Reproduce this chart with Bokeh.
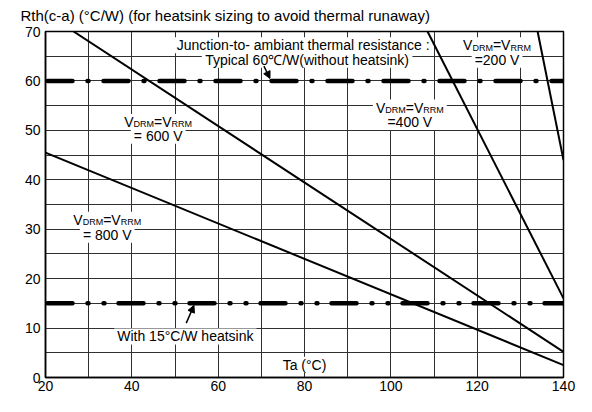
from bokeh.plotting import figure
from bokeh.models import Range1d, FixedTicker, Label, Arrow, NormalHead
from bokeh.embed import file_html
from bokeh.resources import INLINE

# ---------------- data ----------------
ta_800 = [20, 140]
rth_800 = [45.5, 2.5]
ta_600 = [26.5, 140]
rth_600 = [70, 5.2]
ta_400 = [108.5, 140]
rth_400 = [70, 16.0]
ta_200 = [134.0, 140]
rth_200 = [70, 44.0]

ta_span = [20, 140]
rth_no_heatsink = [60, 60]
rth_with_heatsink = [15, 15]

x_ticks = [20, 40, 60, 80, 100, 120, 140]
y_ticks = [0, 10, 20, 30, 40, 50, 60, 70]
x_grid = [20, 30, 40, 50, 60, 70, 80, 90, 100, 110, 120, 130, 140]
y_grid = [0, 5, 10, 15, 20, 25, 30, 35, 40, 45, 50, 55, 60, 65, 70]

FONT = "Liberation Sans"
LEFT, RIGHT, TOP, BOTTOM = 45, 13, 31, 19
WIDTH, HEIGHT = 576, 396
PX_PER_UNIT = (HEIGHT - TOP - BOTTOM) / 70.0

# Arial / Liberation Sans advance widths (per 1000 em)
W = {' ': 278, '(': 333, ')': 333, '-': 333, '/': 278, ':': 278, '=': 584, '°': 400,
     '℃': 1000, 'A': 667, 'C': 722, 'D': 722, 'J': 500, 'M': 833, 'R': 722, 'T': 611,
     'V': 667, 'W': 944, 'a': 556, 'b': 556, 'c': 500, 'e': 556, 'f': 278, 'g': 556,
     'h': 556, 'i': 222, 'k': 500, 'l': 222, 'm': 833, 'n': 556, 'o': 556, 'p': 556,
     'r': 333, 's': 500, 't': 278, 'u': 556, 'v': 500, 'w': 722, 'y': 500, 'z': 500}


def tw(s, size):
    return sum(W.get(c, 556) for c in s) * size / 1000.0


p = figure(width=WIDTH, height=HEIGHT, x_range=Range1d(20, 140), y_range=Range1d(0, 70),
           output_backend="svg", toolbar_location=None,
           min_border_left=LEFT, min_border_right=RIGHT, min_border_top=TOP,
           min_border_bottom=BOTTOM,
           title="Rth(c-a) (°C/W) (for heatsink sizing to avoid thermal runaway)")
p.background_fill_color = "white"
p.border_fill_color = "white"
p.outline_line_color = "black"
p.outline_line_width = 1.5

p.title.text_font = FONT
p.title.text_font_size = "15px"
p.title.text_font_style = "normal"
p.title.text_color = "black"
p.title.align = "left"
p.title.vertical_align = "top"
p.title.offset = 20 - LEFT
p.title.standoff = 11

for ax, ticks in ((p.xaxis, x_ticks), (p.yaxis, y_ticks)):
    ax.ticker = FixedTicker(ticks=ticks)
    ax.major_label_text_font = FONT
    ax.major_label_text_font_size = "14px"
    ax.major_label_text_color = "black"
    ax.major_tick_out = 0
    ax.major_tick_in = 0
    ax.minor_tick_out = 0
    ax.minor_tick_in = 0
    ax.axis_line_color = "black"
    ax.axis_line_width = 1.5
p.xaxis.major_label_standoff = 3
p.yaxis.major_label_standoff = 5

p.xgrid.ticker = FixedTicker(ticks=x_grid)
p.ygrid.ticker = FixedTicker(ticks=y_grid)
for g in (p.xgrid, p.ygrid):
    g.grid_line_color = "#303030"
    g.grid_line_width = 1
    g.grid_line_alpha = 1.0

# ---------------- annotation text (white boxes then text) ----------------
boxes_x, boxes_y, boxes_w, boxes_h = [], [], [], []
labels = []


def text_line(x, y, s, size=14):
    boxes_x.append(x); boxes_y.append(y)
    boxes_w.append(tw(s, size) + 6); boxes_h.append(size + 2)
    labels.append(Label(x=x, y=y, text=s, text_font=FONT, text_font_size=f"{size}px",
                        text_align="center", text_baseline="middle", text_color="black"))


def vlabel(x, y, size=14, sub=9):
    parts = [("V", False), ("DRM", True), ("=", False), ("V", False), ("RRM", True)]
    widths = [tw(t, sub if s else size) for t, s in parts]
    total = sum(widths)
    boxes_x.append(x); boxes_y.append(y)
    boxes_w.append(total + 6); boxes_h.append(size + 2)
    off = -total / 2
    for (t, s), w in zip(parts, widths):
        yy = y - (2.5 / PX_PER_UNIT if s else 0)
        labels.append(Label(x=x, y=yy, x_offset=off, text=t, text_font=FONT,
                            text_font_size=f"{sub if s else size}px", text_align="left",
                            text_baseline="middle", text_color="black"))
        off += w


text_line(79.7, 67.2, "Junction-to- ambiant thermal resistance :")
text_line(80.6, 64.3, "Typical 60℃/W(without heatsink)")
vlabel(124.6, 67.2)
text_line(124.6, 64.3, "=200 V")
vlabel(104.4, 54.6)
text_line(104.4, 51.7, "=400 V")
vlabel(46.1, 51.7)
text_line(46.1, 48.9, "= 600 V")
vlabel(34.3, 31.9)
text_line(34.3, 28.9, "= 800 V")
text_line(52.4, 8.3, "With 15°C/W heatsink")
text_line(80.0, 2.6, "Ta (°C)")

p.rect(x=boxes_x, y=boxes_y, width=boxes_w, height=boxes_h,
       width_units="screen", height_units="screen",
       fill_color="white", line_color=None)

# ---------------- curves ----------------
for xs, ys in ((ta_800, rth_800), (ta_600, rth_600), (ta_400, rth_400), (ta_200, rth_200)):
    p.line(xs, ys, line_color="black", line_width=2)

p.line(ta_span, rth_no_heatsink, line_color="black", line_width=4.5, line_cap="round",
       line_dash="25 15 1 15", line_dash_offset=-2)
p.line(ta_span, rth_with_heatsink, line_color="black", line_width=4.5, line_cap="round",
       line_dash="25 15 1 15 1 14", line_dash_offset=-2)

for lab in labels:
    p.add_layout(lab)

p.add_layout(Arrow(end=NormalHead(size=7, fill_color="black", line_color="black"),
                   x_start=70.6, y_start=63.0, x_end=72.0, y_end=60.5,
                   line_color="black", line_width=1.5))
p.add_layout(Arrow(end=NormalHead(size=7, fill_color="black", line_color="black"),
                   x_start=52.6, y_start=11.0, x_end=54.4, y_end=14.6,
                   line_color="black", line_width=1.5))

open("out.html", "w").write(file_html(p, INLINE))
